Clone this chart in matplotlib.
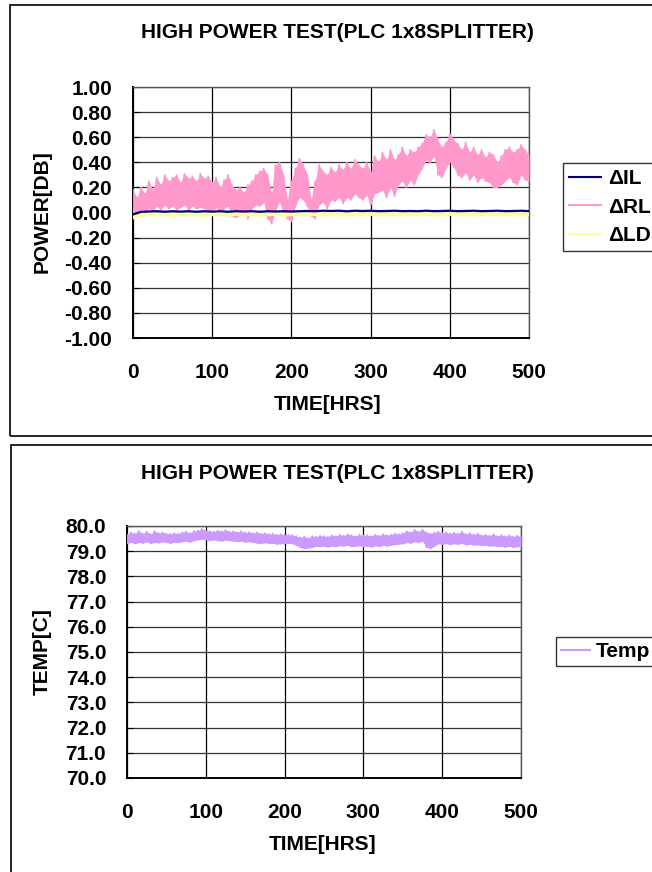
import matplotlib
matplotlib.use("Agg")
import matplotlib.pyplot as plt
from matplotlib.patches import Rectangle
from matplotlib.lines import Line2D

plt.rcParams['font.family'] = ['Liberation Sans', 'DejaVu Sans']
plt.rcParams['font.weight'] = 'bold'

# ---------------- data ----------------
title = "HIGH POWER TEST(PLC 1x8SPLITTER)"
x_ticks = [0, 100, 200, 300, 400, 500]
power_ticks = [1.00, 0.80, 0.60, 0.40, 0.20, 0.00, -0.20, -0.40, -0.60, -0.80, -1.00]
temp_ticks = [80.0, 79.0, 78.0, 77.0, 76.0, 75.0, 74.0, 73.0, 72.0, 71.0, 70.0]

# hours sampled every 5 h (envelope of the noisy traces: high / low readings)
hours5 = list(range(0, 505, 5))
rl_hi = [0.18, 0.12, 0.20, 0.15, 0.25, 0.18, 0.28, 0.22, 0.30, 0.25,
         0.28, 0.30, 0.24, 0.31, 0.27, 0.29, 0.25, 0.31, 0.27, 0.29,
         0.24, 0.28, 0.20, 0.26, 0.30, 0.22, 0.18, 0.20, 0.16, 0.22,
         0.25, 0.30, 0.33, 0.35, 0.30, 0.15, 0.38, 0.40, 0.30, 0.10,
         0.25, 0.35, 0.43, 0.38, 0.30, 0.10, 0.25, 0.38, 0.33, 0.30,
         0.36, 0.32, 0.38, 0.34, 0.40, 0.35, 0.42, 0.38, 0.35, 0.40,
         0.32, 0.45, 0.40, 0.48, 0.42, 0.50, 0.42, 0.46, 0.52, 0.45,
         0.50, 0.48, 0.52, 0.55, 0.62, 0.60, 0.66, 0.58, 0.52, 0.56,
         0.63, 0.58, 0.55, 0.50, 0.56, 0.48, 0.52, 0.46, 0.50, 0.44,
         0.48, 0.46, 0.40, 0.45, 0.50, 0.52, 0.48, 0.50, 0.54, 0.50,
         0.46]
rl_lo = [-0.04, -0.02, 0.02, 0.00, 0.03, 0.01, 0.05, 0.02, 0.06, 0.03,
         0.05, 0.02, 0.04, 0.06, 0.02, 0.05, 0.03, 0.04, 0.03, 0.02,
         0.00, 0.04, -0.02, 0.03, 0.05, -0.03, -0.04, -0.02, 0.02, -0.05,
         0.03, 0.06, 0.05, 0.08, -0.05, -0.09, 0.02, 0.08, 0.00, -0.05,
         -0.07, 0.05, 0.12, 0.10, 0.05, -0.03, -0.05, 0.06, 0.08, 0.03,
         0.10, 0.09, 0.12, 0.07, 0.12, 0.10, 0.15, 0.12, 0.10, 0.14,
         0.06, 0.15, 0.16, 0.18, 0.12, 0.20, 0.13, 0.22, 0.25, 0.20,
         0.26, 0.22, 0.30, 0.35, 0.42, 0.40, 0.45, 0.30, 0.28, 0.35,
         0.40, 0.36, 0.30, 0.28, 0.32, 0.26, 0.30, 0.24, 0.28, 0.25,
         0.24, 0.20, 0.20, 0.22, 0.25, 0.28, 0.24, 0.22, 0.30, 0.26,
         0.25]

hours10 = list(range(0, 510, 10))
il = [-0.015, 0.005, 0.008, 0.010, 0.006, 0.010, 0.007, 0.010, 0.006, 0.010,
      0.007, 0.010, 0.006, 0.010, 0.008, 0.010, 0.006, 0.010, 0.008, 0.010,
      0.008, 0.010, 0.012, 0.010, 0.014, 0.012, 0.014, 0.010, 0.014, 0.012,
      0.014, 0.011, 0.012, 0.014, 0.011, 0.012, 0.011, 0.014, 0.011, 0.012,
      0.014, 0.011, 0.012, 0.014, 0.011, 0.012, 0.014, 0.011, 0.012, 0.014,
      0.011]
ld = [-0.04, -0.020, -0.012, -0.018, -0.012, -0.020, -0.012, -0.018, -0.012, -0.020,
      -0.015, -0.012, -0.018, -0.012, -0.018, -0.012, -0.020, -0.015, -0.012, -0.018,
      -0.015, -0.012, -0.018, -0.012, -0.018, -0.012, -0.015, -0.018, -0.012, -0.018,
      -0.012, -0.018, -0.015, -0.012, -0.018, -0.012, -0.018, -0.012, -0.018, -0.015,
      -0.012, -0.018, -0.012, -0.018, -0.015, -0.012, -0.018, -0.012, -0.018, -0.015,
      -0.012]

temp_hi = [79.65, 79.75, 79.70, 79.80, 79.70, 79.78, 79.68, 79.80, 79.72, 79.75,
           79.70, 79.68, 79.72, 79.70, 79.75, 79.78, 79.72, 79.80, 79.82, 79.90,
           79.82, 79.80, 79.78, 79.82, 79.80, 79.84, 79.78, 79.80, 79.76, 79.80,
           79.74, 79.76, 79.72, 79.75, 79.70, 79.72, 79.68, 79.70, 79.66, 79.68,
           79.65, 79.66, 79.64, 79.60, 79.55, 79.58, 79.52, 79.60, 79.58, 79.62,
           79.60, 79.58, 79.64, 79.60, 79.66, 79.62, 79.68, 79.64, 79.60, 79.66,
           79.62, 79.64, 79.60, 79.66, 79.62, 79.68, 79.64, 79.66, 79.70, 79.68,
           79.72, 79.80, 79.76, 79.85, 79.78, 79.86, 79.75, 79.70, 79.74, 79.78,
           79.72, 79.76, 79.70, 79.74, 79.70, 79.78, 79.68, 79.72, 79.66, 79.70,
           79.64, 79.66, 79.62, 79.68, 79.60, 79.64, 79.60, 79.64, 79.58, 79.62,
           79.60]
temp_lo = [79.30, 79.35, 79.30, 79.35, 79.32, 79.38, 79.30, 79.35, 79.33, 79.38,
           79.35, 79.32, 79.36, 79.34, 79.38, 79.40, 79.36, 79.42, 79.45, 79.48,
           79.45, 79.42, 79.45, 79.42, 79.40, 79.44, 79.42, 79.40, 79.38, 79.40,
           79.36, 79.38, 79.35, 79.32, 79.30, 79.34, 79.30, 79.32, 79.28, 79.30,
           79.30, 79.32, 79.30, 79.22, 79.15, 79.10, 79.12, 79.15, 79.20, 79.18,
           79.20, 79.16, 79.20, 79.18, 79.22, 79.20, 79.24, 79.18, 79.20, 79.22,
           79.18, 79.20, 79.16, 79.22, 79.18, 79.24, 79.20, 79.24, 79.26, 79.28,
           79.30, 79.34, 79.32, 79.38, 79.34, 79.40, 79.15, 79.10, 79.20, 79.30,
           79.28, 79.30, 79.26, 79.30, 79.27, 79.32, 79.25, 79.28, 79.24, 79.26,
           79.22, 79.24, 79.20, 79.22, 79.18, 79.20, 79.16, 79.20, 79.15, 79.18,
           79.16]

c_il = '#000080'
c_rl = '#FF99CC'
c_ld = '#FFFF99'
c_temp = '#CC99FF'


def zigzag(xs, hi, lo):
    xx, yy = [], []
    for x, h, l in zip(xs, hi, lo):
        xx += [x, x]
        yy += [h, l]
    return xx, yy


W, H = 652, 872
fig = plt.figure(figsize=(W / 100, H / 100), dpi=100)


def fx(px):
    return px / W


def fy(py):
    return 1 - py / H


# panel frames
fig.patches.append(Rectangle((fx(10), fy(436)), fx(700), 431 / H, transform=fig.transFigure,
                             fill=False, edgecolor='black', linewidth=1.2))
fig.patches.append(Rectangle((fx(11), fy(890)), fx(700), 445 / H, transform=fig.transFigure,
                             fill=False, edgecolor='black', linewidth=1.2))

FS = 15


def style_axes(ax, ticks, fmt, xpad, ypad):
    ax.set_xlim(0, 500)
    ax.set_ylim(min(ticks), max(ticks))
    ax.set_xticks(x_ticks)
    ax.set_yticks(ticks)
    ax.set_yticklabels([fmt.format(t) for t in ticks])
    ax.xaxis.grid(True, color='black', linewidth=0.9)
    ax.yaxis.grid(True, color='#333333', linewidth=0.9)
    ax.set_axisbelow(True)
    ax.tick_params(axis='x', length=0, pad=xpad, labelsize=FS)
    ax.tick_params(axis='y', length=4, direction='in', pad=ypad, labelsize=FS)
    for lab in ax.get_xticklabels() + ax.get_yticklabels():
        lab.set_fontweight('bold')
    for s in ['top', 'right']:
        ax.spines[s].set_color('#555555')
        ax.spines[s].set_linewidth(1.0)
    for s in ['left', 'bottom']:
        ax.spines[s].set_color('black')
        ax.spines[s].set_linewidth(1.4)


# ---------- top chart ----------
ax1 = fig.add_axes([fx(133), fy(338), (529 - 133) / W, (338 - 87) / H])
ax1.fill_between(hours5, rl_lo, rl_hi, color=c_rl, linewidth=0, zorder=3)
xr, yr = zigzag(hours5, rl_hi, rl_lo)
ax1.plot(xr, yr, color=c_rl, linewidth=1.2, zorder=3)
ax1.plot(hours10, ld, color=c_ld, linewidth=2.8, zorder=4)
ax1.plot(hours10, il, color=c_il, linewidth=1.6, zorder=5)
style_axes(ax1, power_ticks, "{:.2f}", 18, 15)

fig.text(fx(337), fy(32), title, ha='center', va='center', fontsize=FS, fontweight='bold')
fig.text(fx(328), fy(404), "TIME[HRS]", ha='center', va='center', fontsize=FS, fontweight='bold')
fig.text(fx(42), fy(212), "POWER[DB]", ha='center', va='center', rotation=90, fontsize=FS, fontweight='bold')

h1 = [Line2D([], [], color=c_il, lw=1.5), Line2D([], [], color=c_rl, lw=1.5), Line2D([], [], color=c_ld, lw=1.5)]
leg1 = fig.legend(h1, ["ΔIL", "ΔRL", "ΔLD"], loc='upper left', bbox_to_anchor=(fx(563), fy(163)),
                  frameon=True, fancybox=False, edgecolor='black', fontsize=FS, handlelength=1.5,
                  handletextpad=0.35, labelspacing=0.45, borderpad=0.3, borderaxespad=0)
leg1.get_frame().set_linewidth(1.0)
for t in leg1.get_texts():
    t.set_fontweight('bold')

# ---------- bottom chart ----------
ax2 = fig.add_axes([fx(127), fy(778), (521 - 127) / W, (778 - 526) / H])
ax2.fill_between(hours5, temp_lo, temp_hi, color=c_temp, linewidth=0, zorder=3)
xt, yt = zigzag(hours5, temp_hi, temp_lo)
ax2.plot(xt, yt, color=c_temp, linewidth=1.2, zorder=3)
style_axes(ax2, temp_ticks, "{:.1f}", 18, 15)

fig.text(fx(337), fy(473), title, ha='center', va='center', fontsize=FS, fontweight='bold')
fig.text(fx(323), fy(844), "TIME[HRS]", ha='center', va='center', fontsize=FS, fontweight='bold')
fig.text(fx(42), fy(652), "TEMP[C]", ha='center', va='center', rotation=90, fontsize=FS, fontweight='bold')

h2 = [Line2D([], [], color=c_temp, lw=1.5)]
leg2 = fig.legend(h2, ["Temp"], loc='upper left', bbox_to_anchor=(fx(556), fy(637)),
                  frameon=True, fancybox=False, edgecolor='black', fontsize=FS, handlelength=1.4,
                  handletextpad=0.25, borderpad=0.25, borderaxespad=0)
leg2.get_frame().set_linewidth(1.0)
for t in leg2.get_texts():
    t.set_fontweight('bold')

fig.savefig("out.png", dpi=100, facecolor='white')
